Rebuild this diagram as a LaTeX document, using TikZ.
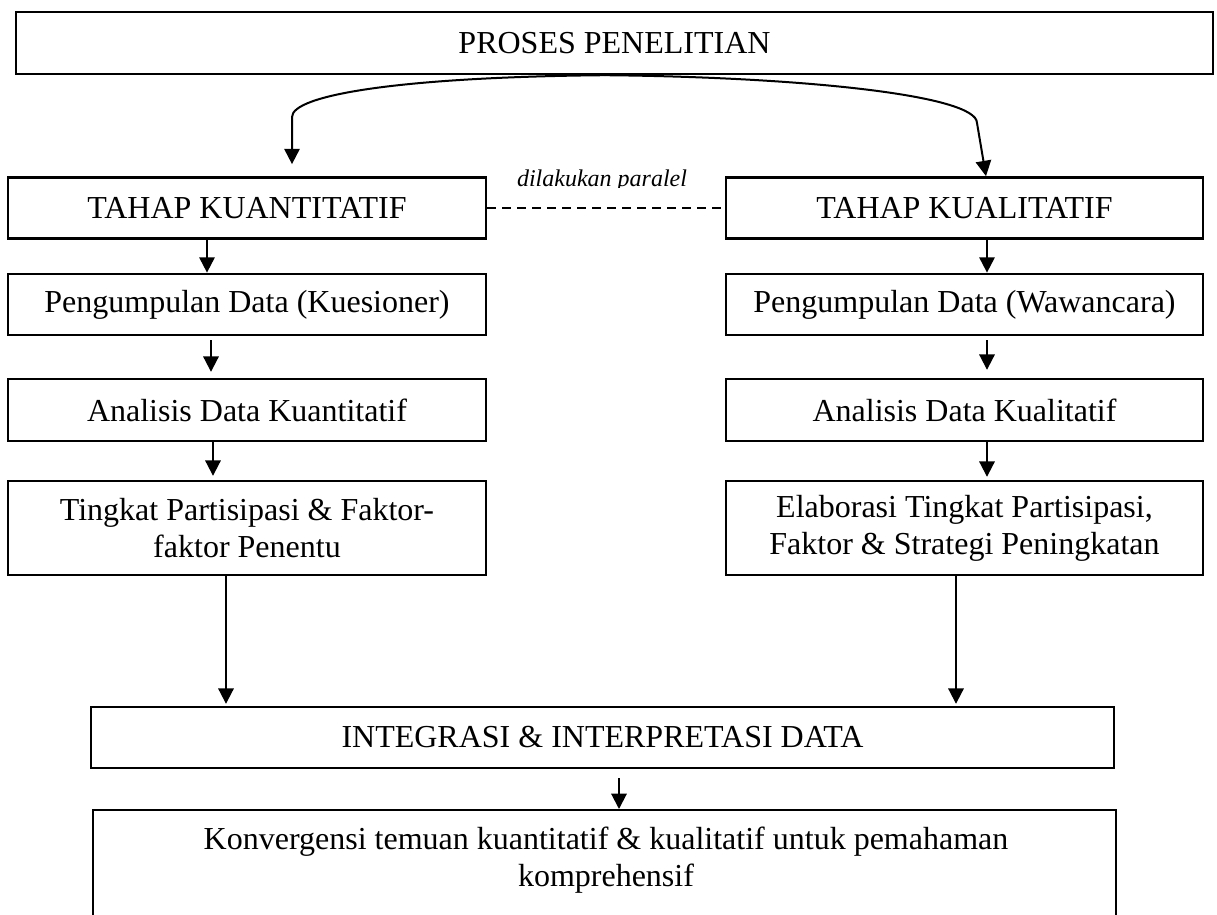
\documentclass[tikz,border=0pt]{standalone}
\usepackage{fontspec}
\setmainfont{Liberation Serif}
\usetikzlibrary{arrows.meta}
\begin{document}
\begin{tikzpicture}[x=0.75pt,y=-0.75pt,
  box/.style={draw, line width=1.8pt, inner sep=0pt, align=center,
    font=\fontsize{24}{27.75}\selectfont},
  arr/.style={line width=1.5pt, -{Triangle[length=11.5pt,width=11.5pt]}},
  lbl/.style={font=\fontsize{18}{21}\selectfont\itshape, inner sep=0pt},
]
\useasboundingbox (0,0) rectangle (1217,914);
\clip (0,0) rectangle (1217,914);
\fill[white] (0,0) rectangle (1217,914);

% boxes
\node[box, minimum width=897.75pt, minimum height=46.5pt] (proses) at (614.5,43) {PROSES PENELITIAN};
\node[box, minimum width=358.5pt, minimum height=46pt] (tkn) at (247,208) {TAHAP KUANTITATIF};
\node[box, minimum width=357.75pt, minimum height=46pt] (tkl) at (964.5,208) {TAHAP KUALITATIF};
\node[box, minimum width=358.5pt, minimum height=46pt] (pkn) at (247,304.5) {Pengumpulan Data (Kuesioner)};
\node[box, minimum width=357.75pt, minimum height=46pt] (pkl) at (964.5,304.5) {Pengumpulan Data (Wawancara)};
\node[box, minimum width=358.5pt, minimum height=46.5pt] (akn) at (247,410) {Analisis Data Kuantitatif};
\node[box, minimum width=357.75pt, minimum height=46.5pt] (akl) at (964.5,410) {Analisis Data Kualitatif};
\node[box, minimum width=358.5pt, minimum height=70.5pt] (hkn) at (247,528) {Tingkat Partisipasi \& Faktor-\\faktor Penentu};
\node[box, minimum width=357.75pt, minimum height=70.5pt] (hkl) at (964.5,528) {Elaborasi Tingkat Partisipasi,\\Faktor \& Strategi Peningkatan};
\node[box, minimum width=767.25pt, minimum height=45.75pt] (integ) at (602.5,737.5) {INTEGRASI \& INTERPRETASI DATA};
\node[box, minimum width=767.25pt, minimum height=120pt, anchor=north] (konv) at (604.5,809) {};
\node[align=center, inner sep=0pt, font=\fontsize{24}{27.75}\selectfont] (konvtxt) at (606,860) {Konvergensi temuan kuantitatif \& kualitatif untuk pemahaman\\komprehensif};

% label (clipped at its baseline as in the reference)
\begin{scope}
  \clip (400,150) rectangle (800,187);
  \node[lbl, anchor=base] (par) at (602,186.5) {dilakukan paralel};
\end{scope}

% helper x positions
\coordinate (xs) at (605,0);
\coordinate (xl0) at (292,0);
\coordinate (xr0) at (986,0);
\coordinate (xa) at (207,0);
\coordinate (xb) at (211,0);
\coordinate (xc) at (213,0);
\coordinate (xd) at (226,0);
\coordinate (ya) at (987,0);
\coordinate (yd) at (956,0);
\coordinate (xm) at (619,0);

% split curve
\draw[arr, shorten >=9pt] (proses.south -| xs) .. controls (400,77) and (292,95) .. (292,117) -- (tkn.north -| xl0);
\draw[arr] (proses.south -| xs) .. controls (800,77) and (977,95) .. (977,123) -- (tkl.north -| xr0);

% parallel dashed line
\draw[line width=0.8pt, dash pattern=on 6.75pt off 4.5pt] (tkn.east) -- (tkl.west);

% left column
\draw[arr] (tkn.south -| xa) -- (pkn.north -| xa);
\draw[arr, shorten <=3pt, shorten >=4.5pt] (pkn.south -| xb) -- (akn.north -| xb);
\draw[arr, shorten >=3pt] (akn.south -| xc) -- (hkn.north -| xc);
\draw[arr, shorten >=1.5pt] (hkn.south -| xd) -- (integ.north -| xd);

% right column
\draw[arr] (tkl.south -| ya) -- (pkl.north -| ya);
\draw[arr, shorten <=3pt, shorten >=6pt] (pkl.south -| ya) -- (akl.north -| ya);
\draw[arr, shorten >=2.25pt] (akl.south -| ya) -- (hkl.north -| ya);
\draw[arr, shorten >=1.5pt] (hkl.south -| yd) -- (integ.north -| yd);

% to final box
\draw[arr, shorten <=6.75pt] (integ.south -| xm) -- (konv.north -| xm);
\end{tikzpicture}
\end{document}
